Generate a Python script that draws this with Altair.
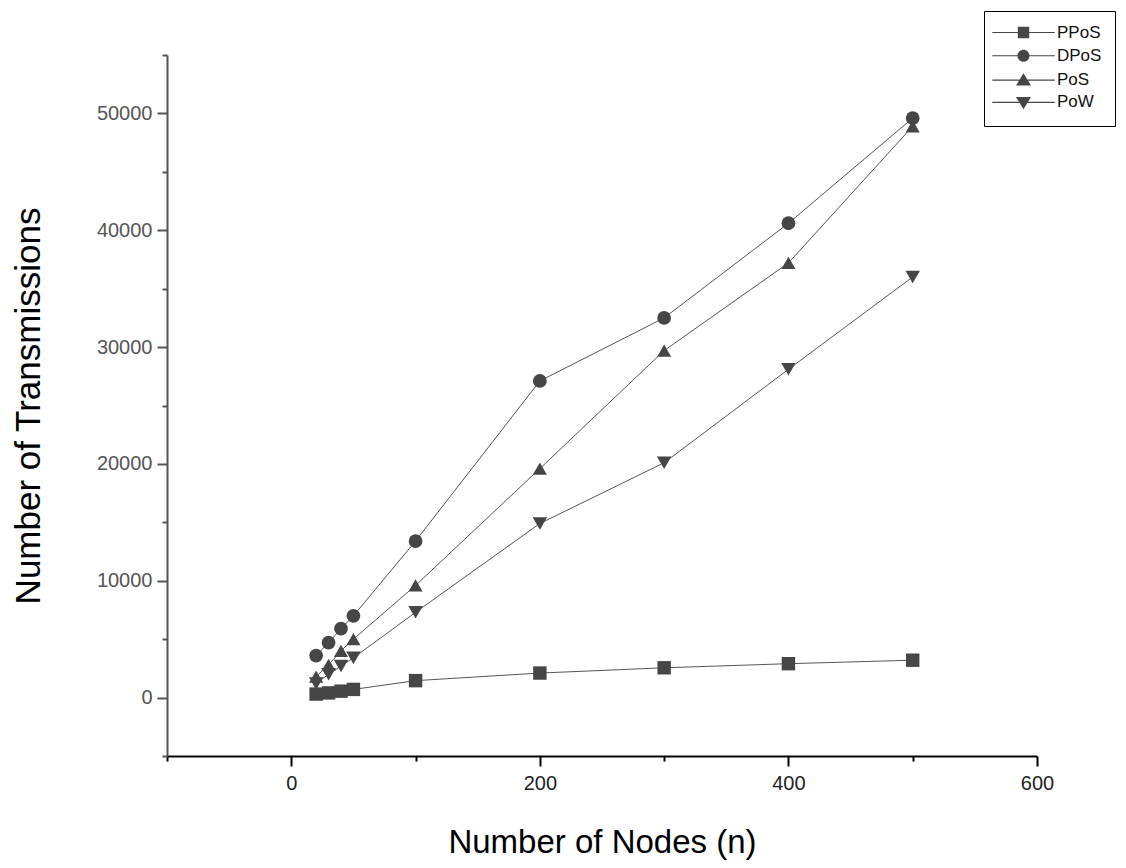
import altair as alt
import pandas as pd

nodes = [20, 30, 40, 50, 100, 200, 300, 400, 500]
series_names = ["PPoS", "DPoS", "PoS", "PoW"]
ppos = [300, 400, 550, 700, 1450, 2100, 2550, 2900, 3200]
dpos = [3600, 4700, 5900, 7000, 13400, 27100, 32500, 40600, 49600]
pos = [1800, 2800, 4000, 5000, 9600, 19600, 29700, 37200, 48900]
pow_ = [1200, 2000, 2700, 3400, 7300, 14900, 20100, 28100, 36000]

x_ticks = [-100, 0, 100, 200, 300, 400, 500, 600]
y_ticks = [-5000, 0, 5000, 10000, 15000, 20000, 25000, 30000, 35000, 40000, 45000, 50000, 55000]

rows = []
for name, vals in zip(series_names, [ppos, dpos, pos, pow_]):
    for n, v in zip(nodes, vals):
        rows.append({"n": n, "v": v, "series": name})
df = pd.DataFrame(rows)

FONT = "Liberation Sans"
MARK = "#464646"

x_enc = alt.X(
    "n:Q",
    scale=alt.Scale(domain=[-100, 600], nice=False, zero=False),
    axis=alt.Axis(
        values=x_ticks,
        labelExpr="datum.value % 200 === 0 ? datum.label : ''",
        tickSize={"condition": {"test": "datum.value % 200 === 0", "value": 10}, "value": 5},
        grid=False,
        domainColor="#000", domainWidth=2,
        tickColor="#000", tickWidth=2,
        labelColor="#222", labelFont=FONT, labelFontSize=20, labelPadding=7,
        labelFlush=False, labelOverlap=False,
        titleFont=FONT, titleFontSize=33, titleFontWeight="normal", titleColor="#000",
        titlePadding=33,
    ),
    title="Number of Nodes (n)",
)
y_enc = alt.Y(
    "v:Q",
    scale=alt.Scale(domain=[-5000, 55000], nice=False, zero=False),
    axis=alt.Axis(
        values=y_ticks,
        format="d",
        labelExpr="datum.value % 10000 === 0 && datum.value >= 0 ? datum.label : ''",
        tickSize={"condition": {"test": "datum.value % 10000 === 0", "value": 10}, "value": 5},
        grid=False,
        domainColor="#555", domainWidth=2,
        tickColor="#555", tickWidth=2,
        labelColor="#555", labelFont=FONT, labelFontSize=20, labelPadding=5,
        labelFlush=False, labelOverlap=False,
        titleFont=FONT, titleFontSize=35, titleFontWeight="normal", titleColor="#000",
        titlePadding=50,
    ),
    title="Number of Transmissions",
)

plain_shapes = ["square", "circle", "triangle-up", "triangle-down"]
legend_shapes = [
    "M-5.2,-0.09H5.2V0.09H-5.2Z M-0.95,-0.95H0.95V0.95H-0.95Z",
    "M-5.2,-0.09H5.2V0.09H-5.2Z M-1,0A1,1 0 1,1 1,0A1,1 0 1,1 -1,0Z",
    "M-5.2,-0.09H5.2V0.09H-5.2Z M0,-1.15L1.25,0.9L-1.25,0.9Z",
    "M-5.2,-0.09H5.2V0.09H-5.2Z M-1.25,-0.9L1.25,-0.9L0,1.15Z",
]

base = alt.Chart(df)

lines = base.mark_line(color="#555", strokeWidth=1).encode(
    x=x_enc, y=y_enc, detail="series:N", order="n:Q"
)

points = base.mark_point(filled=True, opacity=1, color=MARK).encode(
    x=x_enc,
    y=y_enc,
    shape=alt.Shape("series:N", scale=alt.Scale(domain=series_names, range=plain_shapes), legend=None),
    size=alt.Size("series:N", scale=alt.Scale(domain=series_names, range=[180, 210, 220, 220]), legend=None),
)

legend_layer = base.transform_filter("false").mark_point(
    filled=True, opacity=1, color=MARK, size=144
).encode(
    x=x_enc,
    y=y_enc,
    shape=alt.Shape(
        "series:N",
        scale=alt.Scale(domain=series_names, range=legend_shapes),
        legend=alt.Legend(
            title=None,
            orient="none",
            legendX=817,
            legendY=-44,
            strokeColor="#000",
            fillColor="#fff",
            padding=13,
            symbolSize=144,
            symbolOffset=18,
            labelOffset=25,
            labelFont=FONT,
            labelFontSize=17,
            labelColor="#111",
            rowPadding=4.3,
        ),
    ),
)

chart = (
    alt.layer(lines, points, legend_layer)
    .resolve_scale(shape="independent", size="independent")
    .properties(
        width=870,
        height=701,
        autosize="none",
        padding={"left": 159, "top": 47, "right": 81, "bottom": 104},
        background="white",
    )
    .configure_view(strokeOpacity=0, strokeWidth=0)
)

chart.save("out.html", embed_options={"renderer": "svg", "actions": False})
